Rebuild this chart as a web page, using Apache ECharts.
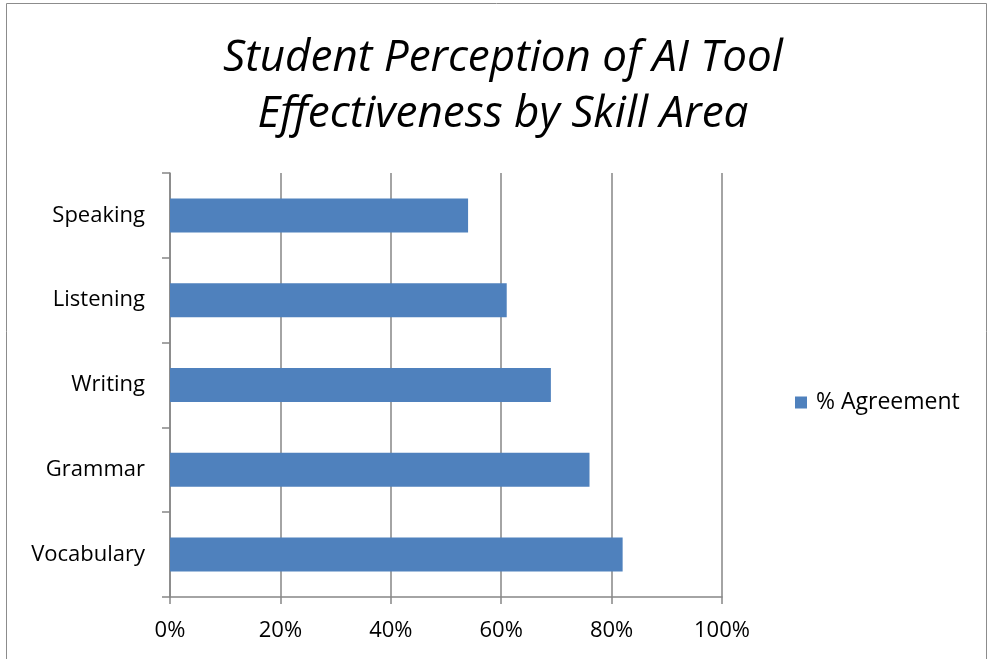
<!DOCTYPE html>
<html><head><meta charset="utf-8">
<script src="https://cdn.jsdelivr.net/npm/echarts@6/dist/echarts.min.js"></script>
<style>html,body{margin:0;padding:0;background:#fff}#c{width:988px;height:659px}</style>
</head><body><div id="c"></div>
<script>
const categories = ['Vocabulary', 'Grammar', 'Writing', 'Listening', 'Speaking'];
const agreement = [82, 76, 69, 61, 54];
const seriesName = '% Agreement';
const titleText = 'Student Perception of AI Tool\nEffectiveness by Skill Area';

const chart = echarts.init(document.getElementById('c'));
const axisGray = '#868686';
chart.setOption({
  animation: false,
  backgroundColor: '#fff',
  graphic: [{
    type: 'rect', shape: {x: 6.5, y: 3.5, width: 980, height: 670},
    style: {fill: 'none', stroke: '#8c8c8c', lineWidth: 1}, silent: true
  }],
  title: {
    text: titleText, left: 498, top: 25, textAlign: 'center',
    textStyle: {fontFamily: 'Open Sans', fontStyle: 'italic', fontWeight: 'normal', fontSize: 44, lineHeight: 56, color: '#000'}
  },
  legend: {
    data: [seriesName], left: 795, top: 391, padding: 0, itemWidth: 12, itemHeight: 12, icon: 'rect', itemGap: 10,
    textStyle: {fontFamily: 'Open Sans', fontSize: 23, color: '#000', padding: [0, 0, 0, 4]}
  },
  grid: {left: 170, top: 173, width: 552, height: 424, containLabel: false},
  xAxis: {
    type: 'value', min: 0, max: 100, interval: 20,
    axisLine: {show: true, lineStyle: {color: axisGray, width: 1.5}},
    axisTick: {show: true, length: 7, lineStyle: {color: axisGray, width: 1.5}},
    axisLabel: {formatter: '{value}%', fontFamily: 'Open Sans', fontSize: 22, color: '#000', margin: 23},
    splitLine: {show: true, lineStyle: {color: axisGray, width: 1.5}}
  },
  yAxis: {
    type: 'category', data: categories,
    axisLine: {show: true, lineStyle: {color: axisGray, width: 1.5}},
    axisTick: {show: true, length: 8, lineStyle: {color: axisGray, width: 1.5}},
    axisLabel: {fontFamily: 'Open Sans', fontSize: 22, color: '#000', margin: 25},
    splitLine: {show: false}
  },
  series: [{
    name: seriesName, type: 'bar', data: agreement, barWidth: 34,
    itemStyle: {color: '#4f81bd'}
  }]
});
</script></body></html>
